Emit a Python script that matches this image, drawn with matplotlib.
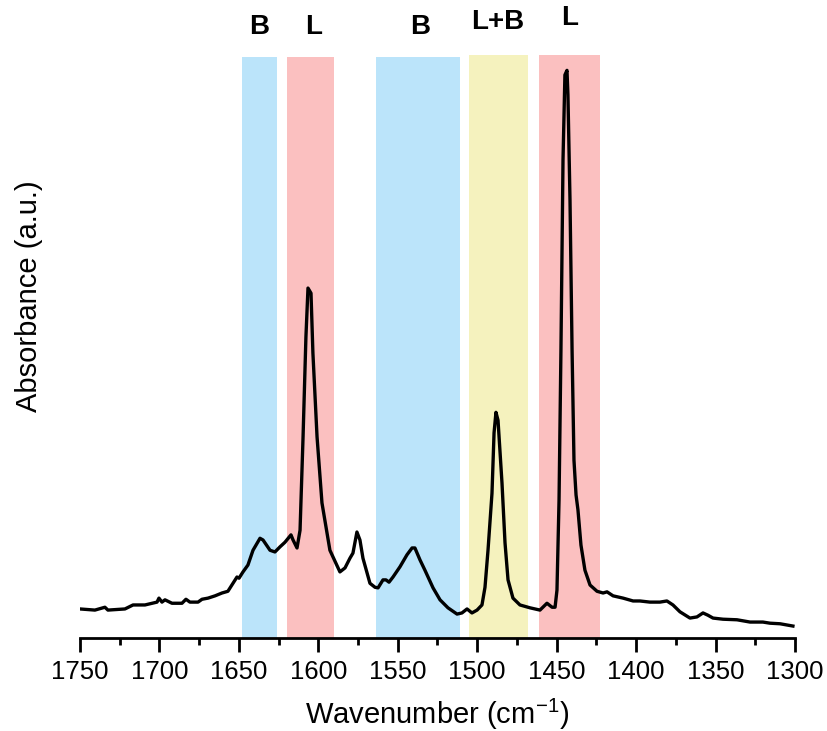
import numpy as np
import matplotlib
matplotlib.use("Agg")
import matplotlib.pyplot as plt
from matplotlib.ticker import MultipleLocator

plt.rcParams['font.family'] = ['Liberation Sans', 'DejaVu Sans']
plt.rcParams['mathtext.default'] = 'regular'

# spectrum (wavenumber, absorbance in a.u.)
wavenumber = [1750.0, 1740.6, 1734.3, 1732.4, 1721.7, 1716.6, 1709.1, 1701.5, 1700.3, 1698.4,
              1696.5, 1692.1, 1685.8, 1683.3, 1680.8, 1675.7, 1673.2, 1669.4, 1665.0, 1660.6,
              1656.9, 1653.7, 1651.2, 1649.9, 1647.4, 1644.3, 1641.1, 1636.7, 1634.8, 1630.4,
              1627.3, 1624.1, 1621.0, 1617.2, 1615.9, 1613.4, 1611.5, 1609.6, 1607.8, 1606.5,
              1604.6, 1603.4, 1600.8, 1597.7, 1592.7, 1586.4, 1583.2, 1580.1, 1578.2, 1575.7,
              1573.8, 1571.9, 1567.5, 1564.3, 1562.4, 1559.3, 1557.4, 1555.5, 1553.0, 1548.6,
              1544.2, 1541.0, 1539.2, 1536.0, 1532.9, 1527.8, 1523.4, 1518.4, 1512.7, 1509.6,
              1506.4, 1503.3, 1500.1, 1497.0, 1495.1, 1493.2, 1490.7, 1489.4, 1488.2, 1486.9,
              1484.4, 1482.5, 1480.6, 1477.5, 1473.1, 1466.8, 1460.5, 1456.1, 1452.9, 1451.0,
              1449.8, 1448.5, 1447.3, 1446.0, 1444.8, 1443.5, 1442.9, 1441.6, 1440.3, 1439.1,
              1437.8, 1436.6, 1434.7, 1432.2, 1429.0, 1424.6, 1420.8, 1418.3, 1414.5, 1408.2,
              1401.9, 1397.6, 1391.3, 1385.0, 1380.6, 1376.8, 1372.4, 1366.1, 1361.7, 1357.9,
              1354.8, 1351.6, 1345.3, 1336.5, 1328.3, 1320.2, 1315.7, 1309.4, 1301.3]
absorbance = [0.051, 0.049, 0.054, 0.049, 0.051, 0.058, 0.058, 0.063, 0.070, 0.063,
              0.067, 0.061, 0.061, 0.068, 0.063, 0.063, 0.068, 0.070, 0.074, 0.079,
              0.082, 0.096, 0.107, 0.105, 0.116, 0.128, 0.154, 0.175, 0.172, 0.154,
              0.151, 0.160, 0.168, 0.181, 0.172, 0.158, 0.189, 0.353, 0.528, 0.614,
              0.605, 0.500, 0.353, 0.237, 0.154, 0.116, 0.123, 0.140, 0.149, 0.186,
              0.172, 0.140, 0.096, 0.089, 0.088, 0.102, 0.102, 0.098, 0.107, 0.125,
              0.146, 0.158, 0.158, 0.137, 0.119, 0.088, 0.067, 0.053, 0.042, 0.044,
              0.051, 0.044, 0.049, 0.058, 0.089, 0.154, 0.254, 0.360, 0.396, 0.382,
              0.272, 0.167, 0.102, 0.070, 0.058, 0.053, 0.049, 0.061, 0.054, 0.054,
              0.084, 0.242, 0.505, 0.839, 0.988, 0.996, 0.953, 0.768, 0.505, 0.312,
              0.251, 0.225, 0.163, 0.119, 0.093, 0.082, 0.079, 0.081, 0.074, 0.070,
              0.065, 0.065, 0.063, 0.063, 0.065, 0.058, 0.046, 0.035, 0.037, 0.044,
              0.040, 0.035, 0.033, 0.032, 0.028, 0.028, 0.026, 0.025, 0.021]

# highlighted regions
band_labels = ['B', 'L', 'B', 'L+B', 'L']
band_start = [1648, 1620, 1564, 1505, 1461]
band_end = [1626, 1590, 1511, 1468, 1423]
band_top = [1.019, 1.019, 1.019, 1.023, 1.023]
band_colors = ['#bbe4fa', '#fbc0c0', '#bbe4fa', '#f5f2be', '#fbc0c0']
label_x = [1637, 1603, 1536, 1487, 1442]
label_y = [1.072, 1.072, 1.072, 1.081, 1.088]

fig = plt.figure(figsize=(8.27, 7.31), dpi=100)
ax = fig.add_axes([0.0967, 0.1272, 0.8646, 0.7976])

for x0, x1, top, c in zip(band_start, band_end, band_top, band_colors):
    ax.fill_between([x0, x1], 0, top, color=c, linewidth=0, zorder=1)

for lab, lx, ly in zip(band_labels, label_x, label_y):
    ax.text(lx, ly, lab, ha='center', va='center', fontsize=20,
            fontweight='bold', clip_on=False)

ax.plot(wavenumber, absorbance, color='black', linewidth=2.4, zorder=3,
        solid_joinstyle='round')

ax.set_xlim(1750, 1300)
ax.set_ylim(0, 1.023)
ax.xaxis.set_major_locator(MultipleLocator(50))
ax.xaxis.set_minor_locator(MultipleLocator(25))
ax.set_yticks([])

for s in ['top', 'right', 'left']:
    ax.spines[s].set_visible(False)
ax.spines['bottom'].set_linewidth(2)
ax.tick_params(axis='x', which='major', length=10, width=2, labelsize=18.5, pad=6)
ax.tick_params(axis='x', which='minor', length=5, width=2)

ax.set_xlabel('Wavenumber (cm$^{-1}$)', fontsize=21, labelpad=9)
ax.set_ylabel('Absorbance (a.u.)', fontsize=21)
ax.yaxis.set_label_coords(-0.052, 0.587)

fig.savefig('out.png', dpi=100)
